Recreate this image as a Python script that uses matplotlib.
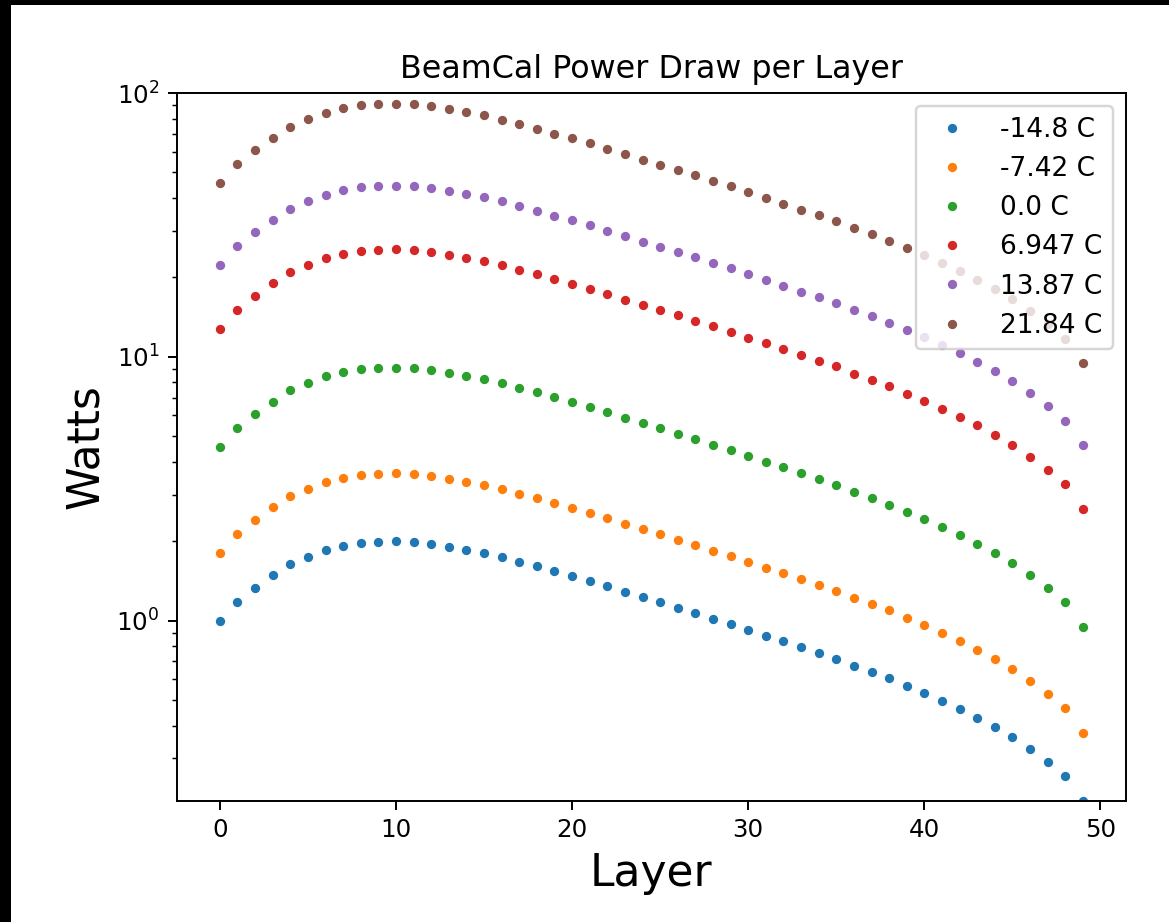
import matplotlib
matplotlib.use("Agg")
import matplotlib.pyplot as plt
from matplotlib.patches import Rectangle

layers = list(range(50))
temperatures = ["-14.8 C", "-7.42 C", "0.0 C", "6.947 C", "13.87 C", "21.84 C"]

watts_m14_8 = [1.000, 1.177, 1.330, 1.484, 1.634, 1.743, 1.847, 1.923, 1.975, 1.990,
               1.995, 1.985, 1.950, 1.905, 1.855, 1.805, 1.740, 1.670, 1.606, 1.537,
               1.476, 1.413, 1.349, 1.284, 1.226, 1.173, 1.120, 1.070, 1.018, 0.970,
               0.922, 0.877, 0.835, 0.792, 0.754, 0.718, 0.675, 0.639, 0.604, 0.566,
               0.532, 0.497, 0.463, 0.429, 0.396, 0.363, 0.327, 0.291, 0.257, 0.207]
watts_m7_42 = [1.810, 2.130, 2.407, 2.686, 2.958, 3.155, 3.343, 3.481, 3.575, 3.602,
               3.611, 3.593, 3.530, 3.448, 3.358, 3.267, 3.149, 3.023, 2.907, 2.782,
               2.672, 2.558, 2.442, 2.324, 2.219, 2.123, 2.027, 1.937, 1.843, 1.756,
               1.669, 1.587, 1.511, 1.434, 1.365, 1.300, 1.222, 1.157, 1.093, 1.024,
               0.963, 0.900, 0.838, 0.776, 0.717, 0.657, 0.592, 0.527, 0.465, 0.375]
watts_0_0 = [4.560, 5.367, 6.065, 6.767, 7.451, 7.948, 8.422, 8.769, 9.006, 9.074,
             9.097, 9.052, 8.892, 8.687, 8.459, 8.231, 7.934, 7.615, 7.323, 7.009,
             6.731, 6.443, 6.151, 5.855, 5.591, 5.349, 5.107, 4.879, 4.642, 4.423,
             4.204, 3.999, 3.808, 3.612, 3.438, 3.274, 3.078, 2.914, 2.754, 2.581,
             2.426, 2.266, 2.111, 1.956, 1.806, 1.655, 1.491, 1.327, 1.172, 0.944]
watts_6_947 = [12.80, 15.07, 17.02, 19.00, 20.92, 22.31, 23.64, 24.61, 25.28, 25.47,
               25.54, 25.41, 24.96, 24.38, 23.74, 23.10, 22.27, 21.38, 20.56, 19.67,
               18.89, 18.09, 17.27, 16.44, 15.69, 15.01, 14.34, 13.70, 13.03, 12.42,
               11.80, 11.23, 10.69, 10.14, 9.651, 9.190, 8.640, 8.179, 7.731, 7.245,
               6.810, 6.362, 5.926, 5.491, 5.069, 4.646, 4.186, 3.725, 3.290, 2.650]
watts_13_87 = [22.30, 26.25, 29.66, 33.09, 36.44, 38.87, 41.19, 42.88, 44.04, 44.38,
               44.49, 44.27, 43.49, 42.48, 41.37, 40.25, 38.80, 37.24, 35.81, 34.28,
               32.91, 31.51, 30.08, 28.63, 27.34, 26.16, 24.98, 23.86, 22.70, 21.63,
               20.56, 19.56, 18.62, 17.66, 16.81, 16.01, 15.05, 14.25, 13.47, 12.62,
               11.86, 11.08, 10.32, 9.567, 8.831, 8.095, 7.292, 6.489, 5.731, 4.616]
watts_21_84 = [45.60, 53.67, 60.65, 67.67, 74.51, 79.48, 84.22, 87.69, 90.06, 90.74,
               90.97, 90.52, 88.92, 86.87, 84.59, 82.31, 79.34, 76.15, 73.23, 70.09,
               67.31, 64.43, 61.51, 58.55, 55.91, 53.49, 51.07, 48.79, 46.42, 44.23,
               42.04, 39.99, 38.08, 36.12, 34.38, 32.74, 30.78, 29.14, 27.54, 25.81,
               24.26, 22.66, 21.11, 19.56, 18.06, 16.55, 14.91, 13.27, 11.72, 9.439]

series = [watts_m14_8, watts_m7_42, watts_0_0, watts_6_947, watts_13_87, watts_21_84]

DPI = 176
fig = plt.figure(figsize=(1169 / DPI, 922 / DPI), dpi=DPI)
ax = fig.add_axes([176.7 / 1169, 1 - 801 / 922, (1126 - 176.7) / 1169, (801 - 93) / 922])

for vals, lab in zip(series, temperatures):
    ax.plot(layers, vals, '.', markersize=5.6, label=lab)

ax.set_yscale('log')
ax.set_ylim(watts_m14_8[-1], 100)
ax.set_title("BeamCal Power Draw per Layer", fontsize=13)
ax.set_xlabel("Layer", fontsize=18)
ax.set_ylabel("Watts", fontsize=18)
ax.legend(loc='upper right', fontsize=10.8)

# black frame strips along top and left edges of the image
fig.add_artist(Rectangle((0, 1 - 5 / 922), 1, 5 / 922, transform=fig.transFigure,
                         facecolor='black', edgecolor='none'))
fig.add_artist(Rectangle((0, 0), 11 / 1169, 1, transform=fig.transFigure,
                         facecolor='black', edgecolor='none'))

fig.savefig("out.png", dpi=DPI)
